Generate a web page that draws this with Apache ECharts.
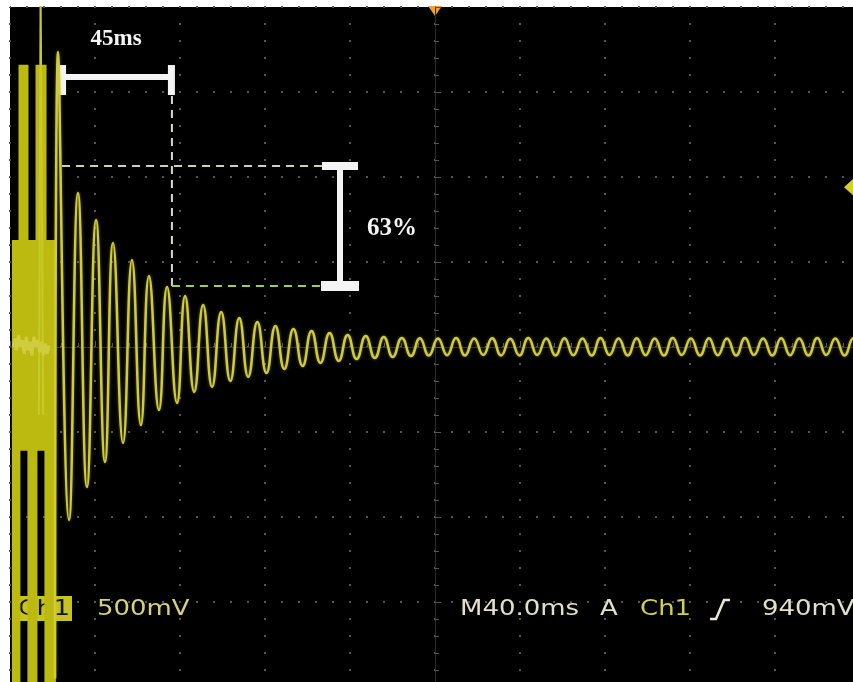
<!DOCTYPE html>
<html>
<head>
<meta charset="utf-8">
<script src="https://cdn.jsdelivr.net/npm/echarts@6/dist/echarts.min.js"></script>
<style>
  html, body { margin: 0; padding: 0; background: #fff; }
  #chart { width: 853px; height: 682px; }
</style>
</head>
<body>
<div id="chart"></div>
<script>
// scope settings: 40 ms / div horizontal, 500 mV / div vertical, trigger at centre
const timeDiv = 40;
const voltDiv = 0.5;
const triggerLevel = 0.94;

// ringing trace, one point per peak / trough (ms, V)
const mainTime = [
  -178.8, -177.4, -172.2, -168.0, -163.8, -159.5, -155.3, -151.5, -146.8, -142.6,
  -138.4, -134.6, -129.9, -126.1, -121.4, -117.6, -113.3, -109.1, -104.9, -100.6,
  -96.3, -92.1, -87.9, -83.6, -79.3, -75.1, -70.9, -66.6, -62.3, -58.1,
  -53.9, -49.6, -45.3, -41.1, -36.9, -32.6, -28.3, -24.1, -19.9, -15.6,
  -11.3, -7.1, -2.9, 1.4, 5.7, 9.9, 14.1, 18.4, 22.7, 26.9,
  31.1, 35.4, 39.7, 43.9, 48.1, 52.4, 56.7, 60.9, 65.1, 69.4,
  73.7, 77.9, 82.1, 86.4, 90.7, 94.9, 99.1, 103.4, 107.7, 111.9,
  116.1, 120.4, 124.7, 128.9, 133.1, 137.4, 141.7, 145.9, 150.1, 154.4,
  158.7, 162.9, 167.1, 171.4, 175.7, 179.9, 184.1, 188.4, 192.7, 196.9,
  201.1
];
const mainVolt = [
  -1.95, 1.735, -1.018, 0.906, -0.824, 0.747, -0.676, 0.612, -0.565, 0.512,
  -0.459, 0.418, -0.371, 0.353, -0.329, 0.300, -0.265, 0.247, -0.235, 0.206,
  -0.200, 0.171, -0.176, 0.147, -0.153, 0.124, -0.129, 0.106, -0.112, 0.094,
  -0.094, 0.082, -0.082, 0.071, -0.071, 0.065, -0.065, 0.059, -0.059, 0.053,
  -0.053, 0.052, -0.050, 0.050, -0.048, 0.053, -0.050, 0.050, -0.047, 0.052,
  -0.050, 0.048, -0.050, 0.053, -0.047, 0.050, -0.050, 0.052, -0.048, 0.050,
  -0.050, 0.053, -0.047, 0.050, -0.050, 0.052, -0.048, 0.050, -0.050, 0.053,
  -0.047, 0.050, -0.050, 0.052, -0.048, 0.050, -0.050, 0.053, -0.047, 0.050,
  -0.050, 0.052, -0.048, 0.050, -0.050, 0.053, -0.047, 0.050, -0.050, 0.052,
  -0.048
];

// saturated burst at the start, drawn as filled bands (ms, V)
const burstStart = [-199.1, -196.0, -191.8, -188.0, -183.8];
const burstEnd = [-195.1, -191.3, -187.1, -182.8, -178.4];
const burstHigh = [0.63, 1.66, 0.63, 1.66, 0.63];
const burstLow = [-2.0, -0.61, -2.0, -0.61, -2.0];

// thin spike in the burst
const spikeTime = [-186.4, -185.6, -185.2, -184.4];
const spikeVolt = [-0.4, 2.1, 2.1, -0.4];

// noise around 0 V during the burst
const noiseTime = [-198.5, -197.6, -196.9, -196.0, -195.1, -194.2, -193.3, -192.4, -191.5, -190.6,
  -189.7, -188.8, -187.9, -187.0, -186.1, -185.2, -184.3, -183.4, -182.5, -181.6];
const noiseVolt = [0.0, 0.05, -0.02, 0.07, 0.0, 0.04, -0.04, 0.06, -0.02, 0.03,
  -0.05, 0.06, 0.0, 0.04, -0.03, 0.03, -0.05, 0.02, -0.04, 0.01];

// annotation: 45 ms span and 63 % decay
const spanMs = [-175.5, -123.8];
const spanBarV = 1.588;
const decayV = [1.065, 0.359];
const decayBarMs = -44.7;
const dashEndMs = -53.2;

const zip = (xs, ys) => xs.map((x, i) => [x, ys[i]]);

const chart = echarts.init(document.getElementById('chart'));

const gridDots = { color: '#555', width: 2, type: [2, 15], dashOffset: 1 };
const tickStyle = { color: '#555' };

chart.setOption({
  backgroundColor: '#fff',
  animation: false,
  grid: {
    left: 10, top: 7, width: 850, height: 680, outerBoundsMode: 'none',
    show: true, backgroundColor: '#000', borderWidth: 0
  },
  xAxis: {
    type: 'value', min: -5 * timeDiv, max: 5 * timeDiv, interval: timeDiv,
    axisLine: { onZero: true, lineStyle: { color: '#2c2c2c', width: 1 } },
    axisTick: { show: true, inside: true, length: 6, lineStyle: tickStyle },
    minorTick: { show: true, splitNumber: 5, length: 4, lineStyle: tickStyle },
    axisLabel: { show: false },
    splitLine: { show: true, lineStyle: gridDots }
  },
  yAxis: {
    type: 'value', min: -4 * voltDiv, max: 4 * voltDiv, interval: voltDiv,
    axisLine: { onZero: true, lineStyle: { color: '#2c2c2c', width: 1 } },
    axisTick: { show: true, inside: true, length: 6, lineStyle: tickStyle },
    minorTick: { show: true, splitNumber: 5, length: 4, lineStyle: tickStyle },
    axisLabel: { show: false },
    splitLine: { show: true, lineStyle: gridDots }
  },
  series: [
    {
      name: 'burst',
      type: 'line',
      data: zip(spikeTime, spikeVolt),
      showSymbol: false,
      lineStyle: { color: '#c8c828', width: 2 },
      markArea: {
        silent: true,
        itemStyle: { color: '#bcba10', opacity: 1 },
        data: burstStart.map((s, i) => [
          { xAxis: s, yAxis: burstHigh[i] },
          { xAxis: burstEnd[i], yAxis: burstLow[i] }
        ])
      }
    },
    {
      name: 'noise',
      type: 'line',
      data: zip(noiseTime, noiseVolt),
      showSymbol: false,
      lineStyle: { color: '#d0cc40', width: 3 }
    },
    {
      name: 'Ch1',
      type: 'line',
      data: zip(mainTime, mainVolt),
      showSymbol: false,
      smooth: 0.5,
      z: 3,
      lineStyle: { color: '#cfcb3a', width: 2.5, shadowColor: 'rgba(210,205,60,0.5)', shadowBlur: 3 }
    }
  ]
});

// annotations and scope readouts
const p = (t, v) => chart.convertToPixel({ gridIndex: 0 }, [t, v]);
const [sx1, sy] = p(spanMs[0], spanBarV);
const [sx2] = p(spanMs[1], spanBarV);
const [, dTop] = p(0, decayV[0]);
const [, dBot] = p(0, decayV[1]);
const [bx] = p(decayBarMs, 0);
const [dEnd] = p(dashEndMs, 0);
const [, vTop] = p(0, 1.476);
const [tx45, ty45] = p(-150.1, 1.812);
const [tx63, ty63] = p(-20.2, 0.694);
const [cx, topY] = p(0, 4 * voltDiv);
const [rightX, trigY] = p(5 * timeDiv, triggerLevel);

const white = '#f4f4f4';
const wide = 1.18;

const scopeText = (x, text, fill) => ({
  type: 'text', x: x, y: 609, scaleX: wide,
  style: { text: text, fill: fill, font: '22px "DejaVu Sans"', textVerticalAlign: 'middle' }
});

chart.setOption({
  graphic: [
    // 45 ms bar
    { type: 'line', shape: { x1: sx2, y1: vTop, x2: sx2, y2: dBot }, style: { stroke: '#d8d8cc', lineWidth: 2, lineDash: [8, 6] } },
    { type: 'line', shape: { x1: sx1, y1: dTop, x2: dEnd, y2: dTop }, style: { stroke: '#cdd2b4', lineWidth: 2, lineDash: [8, 6] } },
    { type: 'line', shape: { x1: sx2, y1: dBot, x2: dEnd, y2: dBot }, style: { stroke: '#9fcf4c', lineWidth: 2, lineDash: [8, 6] } },
    { type: 'rect', shape: { x: sx1, y: sy - 3, width: sx2 - sx1, height: 6 }, style: { fill: white } },
    { type: 'rect', shape: { x: sx1 - 3, y: sy - 12, width: 7, height: 30 }, style: { fill: white } },
    { type: 'rect', shape: { x: sx2 - 4, y: sy - 12, width: 7, height: 30 }, style: { fill: white } },
    {
      type: 'text', x: tx45, y: ty45,
      style: { text: '45ms', fill: white, font: 'bold 23px "Liberation Serif"', textAlign: 'center', textVerticalAlign: 'middle' }
    },
    // 63 % bar
    { type: 'rect', shape: { x: bx - 3, y: dTop, width: 6, height: dBot - dTop }, style: { fill: white } },
    { type: 'rect', shape: { x: bx - 18, y: dTop - 4, width: 36, height: 8 }, style: { fill: white } },
    { type: 'rect', shape: { x: bx - 19, y: dBot - 5, width: 38, height: 10 }, style: { fill: white } },
    {
      type: 'text', x: tx63, y: ty63,
      style: { text: '63%', fill: white, font: 'bold 25px "Liberation Serif"', textAlign: 'center', textVerticalAlign: 'middle' }
    },
    // trigger position and level markers
    { type: 'polygon', shape: { points: [[cx - 7, topY - 1], [cx + 7, topY - 1], [cx, topY + 9]] }, style: { fill: '#f0a030' } },
    { type: 'polygon', shape: { points: [[rightX - 16, trigY], [rightX - 6, trigY - 9], [rightX - 6, trigY + 9]] }, style: { fill: '#d4d224' } },
    // readouts
    { type: 'rect', shape: { x: 14, y: 596, width: 58, height: 25 }, style: { fill: '#c6c41e' } },
    {
      type: 'text', x: 18, y: 609, scaleX: 1.2,
      style: { text: 'Ch1', fill: '#141400', font: '22px "DejaVu Sans"', textVerticalAlign: 'middle' }
    },
    scopeText(97, '500mV', '#d6d27a'),
    scopeText(460, 'M40.0ms', '#e2e0c8'),
    scopeText(600, 'A', '#e2e0c8'),
    scopeText(640, 'Ch1', '#d4d04a'),
    { type: 'polyline', shape: { points: [[710, 619], [716, 619], [724, 600], [730, 600]] }, style: { stroke: '#e8e6d4', lineWidth: 2.5, fill: null } },
    scopeText(762, '940mV', '#e2e0c8')
  ]
});
</script>
</body>
</html>
